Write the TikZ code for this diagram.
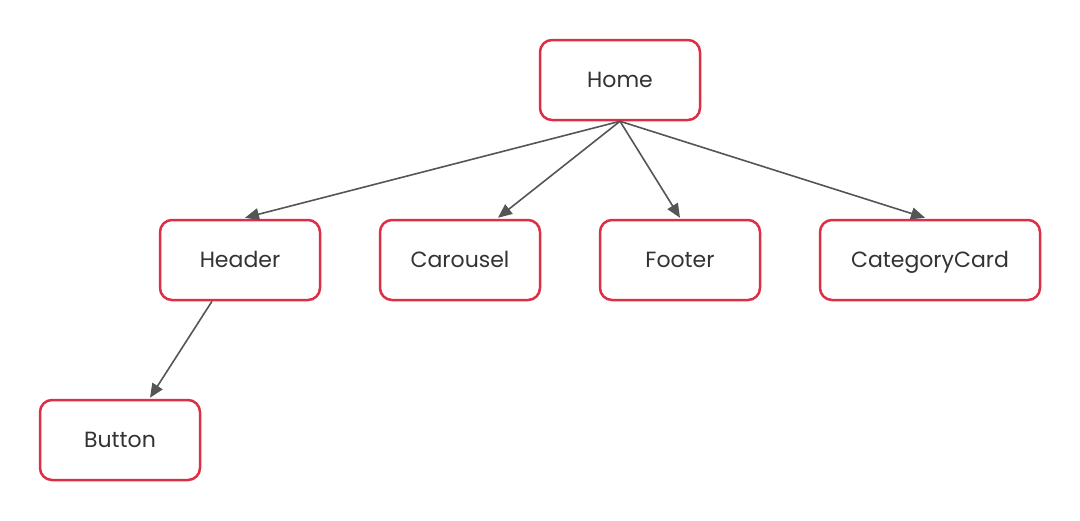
\documentclass[tikz,border=0pt]{standalone}
\usepackage{fontspec}
\setmainfont{Poppins}
\usetikzlibrary{arrows.meta}
\definecolor{boxred}{HTML}{DC2F45}
\definecolor{linegray}{HTML}{555555}
\definecolor{textgray}{HTML}{333333}
\tikzset{
  comp/.style={draw=boxred, line width=2.5pt, rounded corners=12pt, fill=white,
    minimum width=160pt, minimum height=80pt, text=textgray,
    text height=17pt, text depth=3pt,
    font=\fontsize{22}{26}\selectfont},
  link/.style={draw=linegray, line width=1.6pt, -{Triangle[length=14pt,width=12pt]}}
}
\begin{document}
\begin{tikzpicture}[x=1pt,y=-1pt]
  \useasboundingbox (0,0) rectangle (1080,520);
  % components
  \node[comp] (home) at (620,80) {Home};
  \node[comp] (header) at (240,260) {Header};
  \node[comp] (carousel) at (460,260) {Carousel};
  \node[comp] (footer) at (680,260) {Footer};
  \node[comp, minimum width=220pt] (card) at (930,260) {CategoryCard};
  \node[comp] (button) at (120,440) {Button};
  % imports
  \draw[link] (home.south) -- ([xshift=5pt,yshift=1pt]header.north);
  \draw[link] (home.south) -- ([xshift=38pt,yshift=1pt]carousel.north);
  \draw[link] (home.south) -- ([yshift=1pt]footer.north);
  \draw[link] (home.south) -- ([xshift=-5pt,yshift=1pt]card.north);
  \draw[link] ([xshift=-28pt]header.south) -- ([xshift=30pt,yshift=1pt]button.north);
\end{tikzpicture}
\end{document}
